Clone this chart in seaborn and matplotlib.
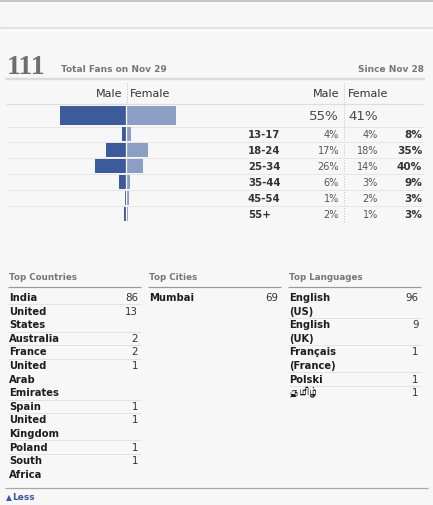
import numpy as np
import pandas as pd
import matplotlib
matplotlib.use("Agg")
import matplotlib.pyplot as plt
import seaborn as sns
from matplotlib import font_manager
from matplotlib.ft2font import FT2Font

# ---------------- data ----------------
total_fans = 111
total_label = "Total Fans on Nov 29"
since_label = "Since Nov 28"
genders = ["Male", "Female"]
gender_totals = [55, 41]
age_groups = ["13-17", "18-24", "25-34", "35-44", "45-54", "55+"]
male_pct = [4, 17, 26, 6, 1, 2]
female_pct = [4, 18, 14, 3, 2, 1]
age_total_pct = [8, 35, 40, 9, 3, 3]

countries = ["India", "United\nStates", "Australia", "France", "United\nArab\nEmirates",
             "Spain", "United\nKingdom", "Poland", "South\nAfrica"]
country_fans = [86, 13, 2, 2, 1, 1, 1, 1, 1]
cities = ["Mumbai"]
city_fans = [69]
languages = ["English\n(US)", "English\n(UK)", "Français\n(France)", "Polski", "தமிழ்"]
language_fans = [96, 9, 1, 1, 1]

# ---------------- style ----------------
sns.set_theme(style="white")
plt.rcParams["font.family"] = ["DejaVu Sans"]

def find_font_for(ch):
    for f in font_manager.fontManager.ttflist:
        try:
            if ord(ch) in FT2Font(f.fname).get_charmap():
                return f.name
        except Exception:
            pass
    return None

tamil_font = find_font_for("த")
lang_family = ["DejaVu Sans"] + ([tamil_font] if tamil_font else [])

W, H = 433, 505
BG = "#f7f7f7"
MALE_C = "#3d5a9b"
FEMALE_C = "#8d9ec5"
DARK = "#333333"
GRAY = "#777777"

fig = plt.figure(figsize=(W / 100, H / 100), dpi=100, facecolor=BG)
bg = fig.add_axes([0, 0, 1, 1])
bg.set_xlim(0, W)
bg.set_ylim(H, 0)
bg.axis("off")
bg.set_facecolor(BG)
PX = 0.72  # 1 pixel in points


def hline(y, x0, x1, color, lw=1.0, ls="-"):
    bg.plot([x0, x1], [y, y], color=color, lw=lw * PX, ls=ls, solid_capstyle="butt")


def vline(x, y0, y1, color, lw=1.0, ls="-"):
    bg.plot([x, x], [y0, y1], color=color, lw=lw * PX, ls=ls)


def rect(x0, y0, x1, y1):
    return [x0 / W, 1 - y1 / H, (x1 - x0) / W, (y1 - y0) / H]


# top frame lines
hline(0.8, 0, W, "#c6c6c6", 2)
hline(27.5, 0, W, "#e2e2e2", 2)
hline(29.8, 0, W, "#ffffff", 1)

# summary header
bg.text(7, 73.5, str(total_fans), family="Liberation Serif", fontweight="bold",
        fontsize=20, color="#6e6e6e", va="baseline", ha="left")
bg.text(61, 72.5, total_label, fontsize=6.5, fontweight="bold", color=GRAY, va="baseline")
bg.text(424, 72.5, since_label, fontsize=6.5, fontweight="bold", color=GRAY,
        va="baseline", ha="right")
hline(79, 5, 425, "#dcdcdc", 2.5)

# column headers
bg.text(122, 97, genders[0], fontsize=8, color=DARK, ha="right", va="baseline")
bg.text(130, 97, genders[1], fontsize=8, color=DARK, ha="left", va="baseline")
bg.text(339, 97, genders[0], fontsize=8, color=DARK, ha="right", va="baseline")
bg.text(348, 97, genders[1], fontsize=8, color=DARK, ha="left", va="baseline")
hline(104, 6, 423, "#dedede", 1.2)
vline(126.5, 83, 104, "#bbbbbb", 1, ":")
vline(344, 83, 222, "#c4c4c4", 1, ":")

# row separators
row_top, row_bot = 126.5, 221.5
row_h = (row_bot - row_top) / len(age_groups)
for i in range(len(age_groups)):
    hline(row_top + i * row_h, 8, 423, "#e6e6e6", 1)

# ---------------- pyramid (seaborn) ----------------
total_df = pd.DataFrame({"row": ["All", "All"], "gender": genders,
                         "pct": [-gender_totals[0], gender_totals[1]]})
age_df = pd.DataFrame({"age": age_groups * 2,
                       "gender": [genders[0]] * len(age_groups) + [genders[1]] * len(age_groups),
                       "pct": [-v for v in male_pct] + list(female_pct)})
palette = {genders[0]: MALE_C, genders[1]: FEMALE_C}

ax_tot = fig.add_axes(rect(6.5, 104.5, 246.5, 126.5))
sns.barplot(data=total_df, x="pct", y="row", hue="gender", hue_order=genders,
            palette=palette, dodge=False, orient="h", width=0.9, saturation=1,
            linewidth=0, legend=False, ax=ax_tot)
ax_tot.set_xlim(-100, 100)
ax_tot.set_ylim(0.5, -0.5)
ax_tot.axvline(0, color="white", lw=0.9)
ax_tot.axis("off")
ax_tot.patch.set_alpha(0)

ax_age = fig.add_axes(rect(6.5, row_top, 246.5, row_bot))
sns.barplot(data=age_df, x="pct", y="age", hue="gender", hue_order=genders,
            order=age_groups, palette=palette, dodge=False, orient="h", width=0.88,
            saturation=1, linewidth=0, legend=False, ax=ax_age)
ax_age.set_xlim(-100, 100)
ax_age.set_ylim(len(age_groups) - 0.5, -0.5)
ax_age.axvline(0, color="white", lw=0.9)
ax_age.axis("off")
ax_age.patch.set_alpha(0)

# ---------------- percentage table ----------------
bg.text(339, 120.5, f"{gender_totals[0]}%", fontsize=9.6, color="#4a4a4a",
        ha="right", va="baseline")
bg.text(378, 120.5, f"{gender_totals[1]}%", fontsize=9.6, color="#4a4a4a",
        ha="right", va="baseline")
for i, age in enumerate(age_groups):
    yb = row_top + (i + 0.5) * row_h + 4
    bg.text(248, yb, age, fontsize=7.3, fontweight="bold", color=DARK, va="baseline")
    bg.text(339, yb, f"{male_pct[i]}%", fontsize=7.0, color="#555555", ha="right", va="baseline")
    bg.text(378, yb, f"{female_pct[i]}%", fontsize=7.0, color="#555555", ha="right", va="baseline")
    bg.text(422, yb, f"{age_total_pct[i]}%", fontsize=7.6, fontweight="bold", color=DARK,
            ha="right", va="baseline")

# ---------------- top lists ----------------
LINE = 13.6


def draw_list(x0, x1, title, names, values, family=None):
    bg.text(x0 + 1, 280, title, fontsize=6.3, fontweight="bold", color=GRAY, va="baseline")
    hline(287.3, x0, x1, "#9a9a9a", 1.2)
    k = 0
    for j, (name, val) in enumerate(zip(names, values)):
        lines = name.split("\n")
        base = 301 + k * LINE
        bg.text(x1 - 2.5, base, str(val), fontsize=7.4, color=DARK, ha="right", va="baseline")
        for m, ln in enumerate(lines):
            kw = {"family": family} if family else {}
            bg.text(x0 + 1, base + m * LINE, ln, fontsize=7.2, fontweight="bold",
                    color="#1e1e1e", va="baseline", **kw)
        k += len(lines)
        if j < len(names) - 1:
            hline(301 + (k - 1) * LINE + 3.3, x0, x1, "#e2e2e2", 1)


draw_list(8, 140.5, "Top Countries", countries, country_fans)
draw_list(148, 281, "Top Cities", cities, city_fans)
draw_list(288, 421, "Top Languages", languages, language_fans, family=lang_family)

hline(488, 5, 428, "#a8a8a8", 1.2)
bg.text(6, 500, "▲", fontsize=5.5, color="#3b5998", va="baseline")
bg.text(12.5, 500, "Less", fontsize=6.5, fontweight="bold", color="#3b5998", va="baseline")

fig.savefig("out.png", dpi=100, facecolor=BG)
